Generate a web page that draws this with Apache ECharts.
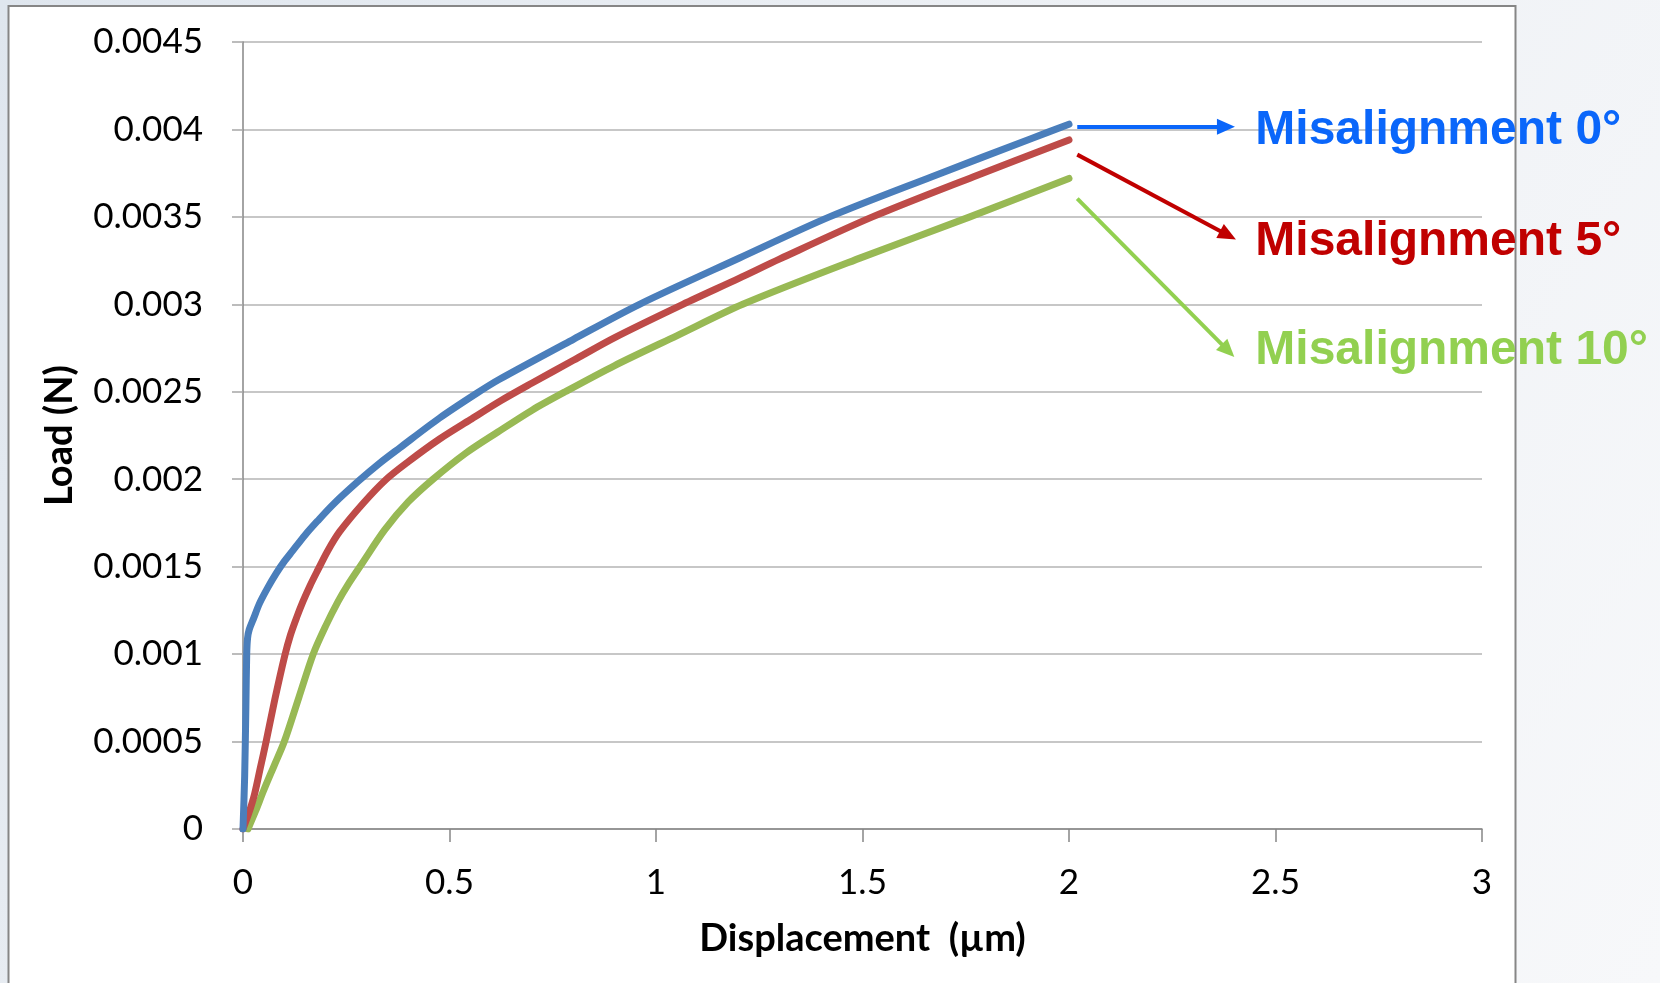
<!DOCTYPE html>
<html>
<head>
<meta charset="utf-8">
<script src="https://cdn.jsdelivr.net/npm/echarts@6/dist/echarts.min.js"></script>
<style>
  html, body { margin: 0; padding: 0; width: 1660px; height: 983px; overflow: hidden; }
  #chart { width: 1660px; height: 983px; }
</style>
</head>
<body>
<div id="chart"></div>
<script>
// Load–displacement curves for three misalignment angles (displacement in µm, load in N)
const disp0 = [0, 0.004, 0.007, 0.009, 0.011, 0.015, 0.025, 0.04, 0.06, 0.08, 0.10, 0.12, 0.15, 0.18, 0.22, 0.28, 0.33, 0.38, 0.476, 0.565, 0.62, 0.80, 0.96, 1.202, 1.42, 1.668, 1.911, 2.0];
const load0 = [0, 0.0003, 0.0007, 0.00100, 0.00109, 0.00114, 0.00120, 0.00129, 0.00138, 0.00146, 0.00153, 0.00159, 0.00168, 0.00176, 0.00186, 0.00199, 0.00209, 0.00218, 0.00235, 0.00249, 0.00257, 0.00280, 0.00300, 0.003265, 0.00350, 0.00373, 0.00395, 0.00403];

const disp5 = [0, 0.014, 0.028, 0.042, 0.056, 0.077, 0.101, 0.115, 0.13, 0.145, 0.162, 0.181, 0.205, 0.234, 0.29, 0.347, 0.40, 0.476, 0.55, 0.625, 0.70, 0.80, 0.90, 1.065, 1.202, 1.30, 1.524, 1.769, 2.0];
const load5 = [0, 0.00009, 0.00020, 0.00035, 0.00050, 0.00074, 0.00099, 0.00111, 0.00121, 0.00130, 0.00139, 0.00148, 0.00159, 0.00170, 0.00186, 0.00200, 0.00210, 0.00223, 0.00234, 0.00245, 0.00255, 0.00268, 0.00281, 0.00300, 0.00315, 0.00326, 0.00350, 0.00373, 0.00394];

const disp10 = [0.012, 0.03, 0.05, 0.075, 0.10, 0.135, 0.17, 0.20, 0.23, 0.255, 0.286, 0.343, 0.40, 0.46, 0.54, 0.617, 0.70, 0.78, 0.90, 1.05, 1.21, 1.50, 1.76, 2.0];
const load10 = [0, 0.00010, 0.00022, 0.00036, 0.00050, 0.00075, 0.00100, 0.00116, 0.00130, 0.00140, 0.00151, 0.00171, 0.00187, 0.00200, 0.00215, 0.00227, 0.002395, 0.00250, 0.00265, 0.00282, 0.00300, 0.00327, 0.00350, 0.00372];

// Axis ranges and tick spacing
const xMin = 0, xMax = 3, xStep = 0.5;
const yMin = 0, yMax = 0.0045, yStep = 0.0005;

// Series names and callout texts
const names = ['Misalignment 0°', 'Misalignment 5°', 'Misalignment 10°'];
const lineColors = ['#4A7EBB', '#BE4B48', '#98B954'];
const calloutColors = ['#0A66FA', '#C00000', '#92D050'];

// Callout arrows (data coordinates): tail near each curve's end, head next to its text
const arrowFrom = [[2.02, 0.004016], [2.02, 0.003856], [2.02, 0.003604]];
const arrowTo   = [[2.38, 0.004016], [2.385, 0.003395], [2.385, 0.002735]];
const textAt    = [[2.45, 0.003990], [2.45, 0.003355], [2.45, 0.002734]];

const zip = (xs, ys) => xs.map((x, i) => [x, ys[i]]);
const curves = [zip(disp0, load0), zip(disp5, load5), zip(disp10, load10)];

const chart = echarts.init(document.getElementById('chart'), null, { renderer: 'canvas' });

const series = curves.map((data, i) => ({
  name: names[i],
  type: 'line',
  data: data,
  showSymbol: false,
  symbol: 'none',
  smooth: 0.3,
  z: 5 - i,
  lineStyle: { color: lineColors[i], width: 7, cap: 'round', join: 'round' },
  markLine: {
    silent: true,
    symbol: ['none', 'triangle'],
    symbolSize: [16, 18],
    label: { show: false },
    lineStyle: { color: calloutColors[i], width: 4, type: 'solid' },
    emphasis: { disabled: true },
    data: [[{ coord: arrowFrom[i] }, { coord: arrowTo[i] }]]
  },
  markPoint: {
    silent: true,
    symbol: 'circle',
    symbolSize: 1,
    itemStyle: { color: 'rgba(0,0,0,0)' },
    label: {
      show: true,
      position: 'right',
      distance: 0,
      formatter: names[i],
      fontFamily: '"Liberation Sans", Arial, sans-serif',
      fontWeight: 'bold',
      fontSize: 48,
      color: calloutColors[i]
    },
    data: [{ coord: textAt[i] }]
  }
}));

chart.setOption({
  animation: false,
  backgroundColor: {
    type: 'linear', x: 0, y: 0, x2: 1, y2: 1,
    colorStops: [
      { offset: 0, color: '#dfe6ee' },
      { offset: 0.5, color: '#eef1f5' },
      { offset: 1, color: '#f7f8fa' }
    ]
  },
  graphic: [{
    type: 'rect',
    z: -100,
    silent: true,
    shape: { x: 8.5, y: 6, width: 1507, height: 1010 },
    style: { fill: '#ffffff', stroke: '#868686', lineWidth: 2 }
  }],
  grid: { left: 243, right: 178, top: 42, bottom: 154, containLabel: false },
  xAxis: {
    type: 'value',
    min: xMin, max: xMax, interval: xStep,
    name: 'Displacement  (µm)',
    nameLocation: 'middle',
    nameGap: 87,
    nameTextStyle: {
      fontFamily: 'Lato, "Noto Sans", sans-serif', fontWeight: 'bold',
      fontSize: 38, lineHeight: 46, color: '#000'
    },
    axisLine: { show: true, onZero: false, lineStyle: { color: '#868686', width: 1.5 } },
    axisTick: { show: true, inside: false, length: 13, lineStyle: { color: '#868686', width: 1.5 } },
    axisLabel: {
      margin: 33,
      fontFamily: 'Lato, "Noto Sans", sans-serif',
      fontSize: 35, lineHeight: 42, color: '#000'
    },
    splitLine: { show: false }
  },
  yAxis: {
    type: 'value',
    min: yMin, max: yMax, interval: yStep,
    name: 'Load (N)',
    nameLocation: 'middle',
    nameRotate: 90,
    nameGap: 156,
    nameTextStyle: {
      fontFamily: 'Lato, "Noto Sans", sans-serif', fontWeight: 'bold',
      fontSize: 38, lineHeight: 46, color: '#000'
    },
    axisLine: { show: true, onZero: false, lineStyle: { color: '#868686', width: 1.5 } },
    axisTick: { show: true, inside: false, length: 11, lineStyle: { color: '#a6a6a6', width: 1.5 } },
    axisLabel: {
      margin: 40,
      fontFamily: 'Lato, "Noto Sans", sans-serif',
      fontSize: 35, color: '#000',
      formatter: v => String(+v.toFixed(4))
    },
    splitLine: { show: true, lineStyle: { color: '#b4b4b4', width: 1.5 } }
  },
  series: series
});
</script>
</body>
</html>
